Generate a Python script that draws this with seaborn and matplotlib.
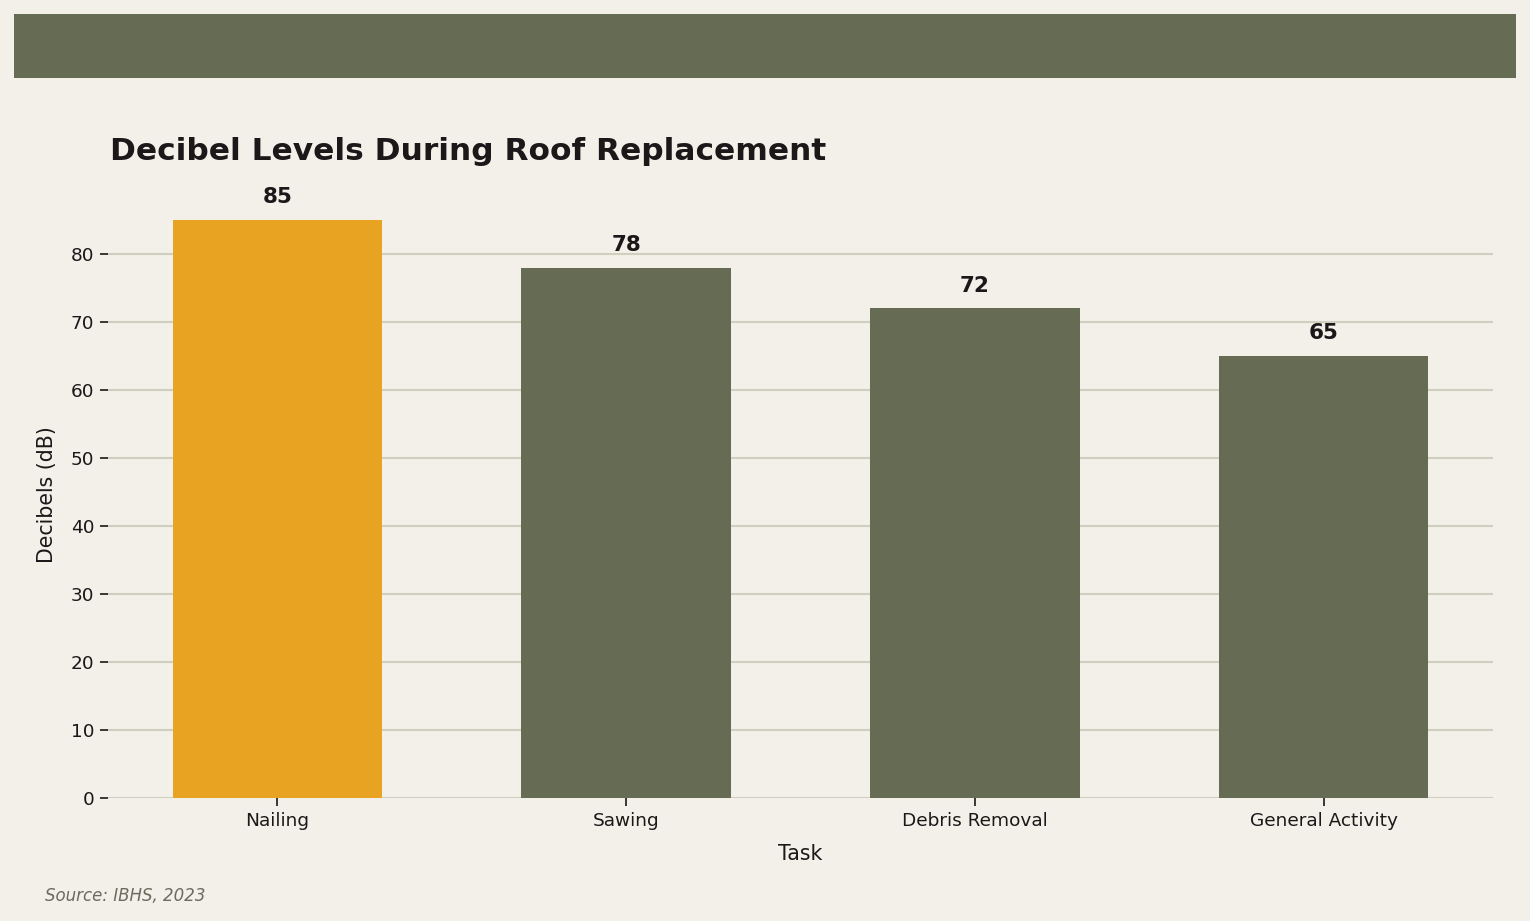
import seaborn as sns
import matplotlib.pyplot as plt
import pandas as pd
from matplotlib.patches import Rectangle

tasks = ['Nailing', 'Sawing', 'Debris Removal', 'General Activity']
decibels = [85, 78, 72, 65]
bar_colors = ['#e8a323', '#666b53', '#666b53', '#666b53']

bg = '#f2f0e9'
dark = '#1c1719'

sns.set_theme(style='white')
plt.rcParams['font.family'] = ['DejaVu Sans']

df = pd.DataFrame({'Task': tasks, 'Decibels': decibels})

fig = plt.figure(figsize=(15.3, 9.21), dpi=100, facecolor=bg)
ax = fig.add_axes([108/1530, 1 - 798/921, (1493-108)/1530, (798-191)/921])
ax.set_facecolor(bg)

sns.barplot(data=df, x='Task', y='Decibels', hue='Task', palette=bar_colors,
            width=0.6, saturation=1, legend=False, ax=ax, zorder=3,
            edgecolor='none', linewidth=0)

ax.set_xlim(-0.485, 3.485)
ax.set_ylim(0, 89.25)
ax.set_yticks(range(0, 81, 10))
ax.grid(axis='y', color='#d0cebd', linewidth=1.5, zorder=0)
ax.set_axisbelow(True)
for s in ax.spines.values():
    s.set_visible(False)
ax.tick_params(axis='both', which='both', length=6, width=1.2, color=dark,
               labelsize=13.3, labelcolor=dark, bottom=True, left=True, pad=4)

for i, v in enumerate(decibels):
    ax.annotate(str(v), (i, v), xytext=(0, 9), textcoords='offset points',
                ha='center', va='bottom', fontsize=15.5, fontweight='bold', color=dark)

ax.set_xlabel('Task', fontsize=14.8, color=dark, labelpad=10)
ax.set_ylabel('Decibels (dB)', fontsize=14.8, color=dark, labelpad=10)

fig.text(110/1530, 1 - 152/921, 'Decibel Levels During Roof Replacement',
         fontsize=22.5, fontweight='bold', color=dark, ha='left', va='center')

fig.patches.append(Rectangle((14/1530, 1 - 78/921), (1516-14)/1530, 64/921,
                             transform=fig.transFigure, facecolor='#666b53',
                             edgecolor='none', zorder=0))

fig.text(45/1530, 1 - 896/921, 'Source: IBHS, 2023', fontsize=12, style='italic',
         color='#6b6b5e', ha='left', va='center')

fig.savefig('out.png', dpi=100, facecolor=bg)
